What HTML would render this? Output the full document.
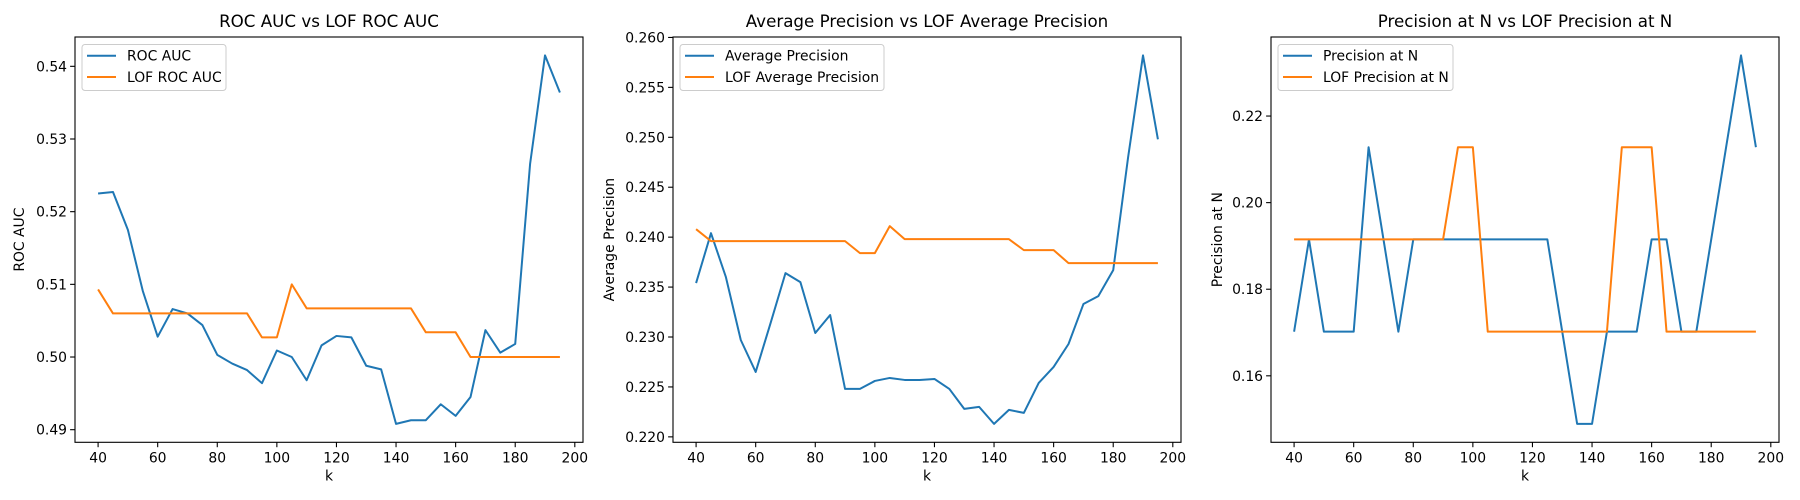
<!DOCTYPE html>
<html><head><meta charset="utf-8"><style>
body{margin:0;background:#fff;}
svg{display:block;font-family:"DejaVu Sans","Liberation Sans",sans-serif;}
</style></head><body>
<svg id="fig" width="1800" height="500"></svg>
<script>
const ks = [40,45,50,55,60,65,70,75,80,85,90,95,100,105,110,115,120,125,130,135,140,145,150,155,160,165,170,175,180,185,190,195];
const rocAuc = [0.5225,0.5227,0.5175,0.5091,0.5028,0.5066,0.5060,0.5044,0.5003,0.4991,0.4982,0.4964,0.5009,0.5000,0.4968,0.5016,0.5029,0.5027,0.4988,0.4983,0.4908,0.4913,0.4913,0.4935,0.4919,0.4945,0.5037,0.5006,0.5018,0.5266,0.5415,0.5364];
const lofRocAuc = [0.5093,0.5060,0.5060,0.5060,0.5060,0.5060,0.5060,0.5060,0.5060,0.5060,0.5060,0.5027,0.5027,0.5100,0.5067,0.5067,0.5067,0.5067,0.5067,0.5067,0.5067,0.5067,0.5034,0.5034,0.5034,0.5000,0.5000,0.5000,0.5000,0.5000,0.5000,0.5000];
const avgPrec = [0.2354,0.2404,0.2360,0.2297,0.2265,0.2314,0.2364,0.2355,0.2304,0.2322,0.2248,0.2248,0.2256,0.2259,0.2257,0.2257,0.2258,0.2248,0.2228,0.2230,0.2213,0.2227,0.2224,0.2254,0.2270,0.2293,0.2333,0.2341,0.2367,0.2480,0.2582,0.2498];
const lofAvgPrec = [0.2408,0.2396,0.2396,0.2396,0.2396,0.2396,0.2396,0.2396,0.2396,0.2396,0.2396,0.2384,0.2384,0.2411,0.2398,0.2398,0.2398,0.2398,0.2398,0.2398,0.2398,0.2398,0.2387,0.2387,0.2387,0.2374,0.2374,0.2374,0.2374,0.2374,0.2374,0.2374];
const precN = [0.1702,0.1915,0.1702,0.1702,0.1702,0.2128,0.1915,0.1702,0.1915,0.1915,0.1915,0.1915,0.1915,0.1915,0.1915,0.1915,0.1915,0.1915,0.1702,0.1489,0.1489,0.1702,0.1702,0.1702,0.1915,0.1915,0.1702,0.1702,0.1915,0.2128,0.2340,0.2128];
const lofPrecN = [0.1915,0.1915,0.1915,0.1915,0.1915,0.1915,0.1915,0.1915,0.1915,0.1915,0.1915,0.2128,0.2128,0.1702,0.1702,0.1702,0.1702,0.1702,0.1702,0.1702,0.1702,0.1702,0.2128,0.2128,0.2128,0.1702,0.1702,0.1702,0.1702,0.1702,0.1702,0.1702];
const xTicks = [40,60,80,100,120,140,160,180,200];
const yTicks1 = [0.49,0.50,0.51,0.52,0.53,0.54];
const yTicks2 = [0.220,0.225,0.230,0.235,0.240,0.245,0.250,0.255,0.260];
const yTicks3 = [0.16,0.18,0.20,0.22];

const NS="http://www.w3.org/2000/svg";
const fig=document.getElementById('fig');
function mk(tag,attrs,parent,text){const e=document.createElementNS(NS,tag);for(const k in attrs)e.setAttribute(k,attrs[k]);if(text!==undefined)e.textContent=text;(parent||fig).appendChild(e);return e;}

function panel(cfg){
  const L=cfg.left,T=37,W=508,H=405.3,B=T+H;
  const g=mk('g',{});
  
  
  const xmin=ks[0],xmax=ks[ks.length-1],xr=xmax-xmin;
  const x0=xmin-0.05*xr,x1=xmax+0.05*xr;
  const all=cfg.s1.concat(cfg.s2);
  const ymn=Math.min(...all),ymx=Math.max(...all),yr=ymx-ymn;
  const y0=ymn-0.05*yr,y1=ymx+0.05*yr;
  const sx=v=>L+(v-x0)/(x1-x0)*W;
  const sy=v=>B-(v-y0)/(y1-y0)*H;
  const t=mk('text',{x:L+W/2,y:27,'text-anchor':'middle','font-size':'16.7',fill:'#000'},g,cfg.title);
  
  
  xTicks.forEach(v=>{const px=sx(v);
    mk('line',{x1:px,x2:px,y1:B,y2:B+4.9,stroke:'#000','stroke-width':1.1},g);
    const tl=mk('text',{x:px,y:B+20,'text-anchor':'middle','font-size':'13.9',fill:'#000'},g,String(v));
    
    
  });
  cfg.yt.forEach(v=>{const py=sy(v);
    mk('line',{x1:L-4.9,x2:L,y1:py,y2:py,stroke:'#000','stroke-width':1.1},g);
    const tl=mk('text',{x:L-8,y:py+5,'text-anchor':'end','font-size':'13.9',fill:'#000'},g,v.toFixed(cfg.dec));
    
    
  });
  const xl=mk('text',{x:L+W/2,y:B+38,'text-anchor':'middle','font-size':'13.9',fill:'#000'},g,'k');
  
  
  const yl=mk('text',{x:0,y:0,'text-anchor':'middle','font-size':'13.9',fill:'#000',transform:`translate(${cfg.ylx},${T+H/2}) rotate(-90)`},g,cfg.ylabel);
  
  
  [[cfg.s1,'#1f77b4','series-main'],[cfg.s2,'#ff7f0e','series-lof']].forEach(([s,c,n])=>{
    const d=s.map((v,i)=>(i?'L':'M')+sx(ks[i]).toFixed(2)+' '+sy(v).toFixed(2)).join(' ');
    const p=mk('path',{d:d,fill:'none',stroke:c,'stroke-width':2,'stroke-linejoin':'round'},g);
    
    
  });
  const fr=mk('rect',{x:L,y:T,width:W,height:H,fill:'none',stroke:'#000','stroke-width':1.1},g);
  
  
  const lg=mk('g',{},g);
  
  
  mk('rect',{x:L+7,y:T+7.5,width:cfg.lw,height:46,rx:3,fill:'#fff','fill-opacity':0.8,stroke:'#ccc','stroke-width':1},lg);
  [[cfg.l1,'#1f77b4',55.7],[cfg.l2,'#ff7f0e',77]].forEach(([txt,c,yy])=>{
    mk('line',{x1:L+12,x2:L+41,y1:yy,y2:yy,stroke:c,'stroke-width':2},lg);
    const e=mk('text',{x:L+52,y:yy+5,'font-size':'13.9',fill:'#000'},lg,txt);
    
    
  });
}
panel({name:'roc-auc-panel',left:75,s1:rocAuc,s2:lofRocAuc,yt:yTicks1,dec:2,title:'ROC AUC vs LOF ROC AUC',ylabel:'ROC AUC',ylx:24,l1:'ROC AUC',l2:'LOF ROC AUC',lw:144});
panel({name:'avg-precision-panel',left:673,s1:avgPrec,s2:lofAvgPrec,yt:yTicks2,dec:3,title:'Average Precision vs LOF Average Precision',ylabel:'Average Precision',ylx:614,l1:'Average Precision',l2:'LOF Average Precision',lw:204});
panel({name:'precision-at-n-panel',left:1271,s1:precN,s2:lofPrecN,yt:yTicks3,dec:2,title:'Precision at N vs LOF Precision at N',ylabel:'Precision at N',ylx:1222,l1:'Precision at N',l2:'LOF Precision at N',lw:175});
</script>
</body></html>
